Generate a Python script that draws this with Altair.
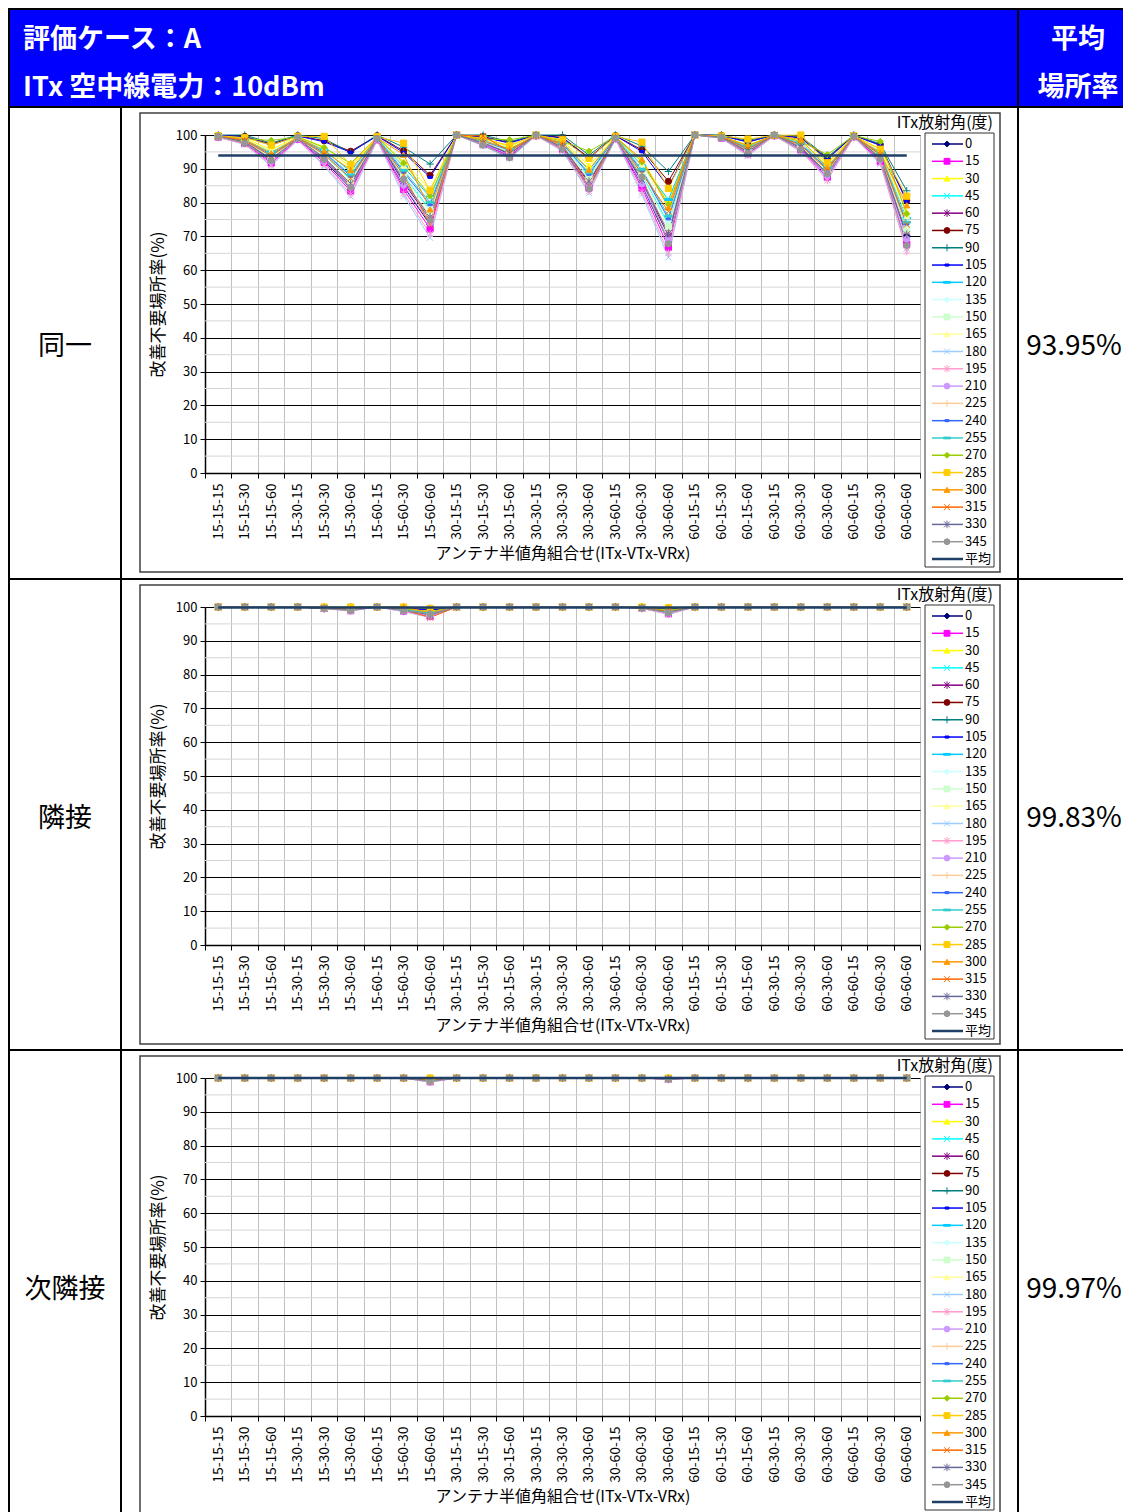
import altair as alt
import pandas as pd

FONT = "Noto Sans CJK JP"

CATS = ["15-15-15", "15-15-30", "15-15-60", "15-30-15", "15-30-30", "15-30-60", "15-60-15", "15-60-30", "15-60-60",
        "30-15-15", "30-15-30", "30-15-60", "30-30-15", "30-30-30", "30-30-60", "30-60-15", "30-60-30", "30-60-60",
        "60-15-15", "60-15-30", "60-15-60", "60-30-15", "60-30-30", "60-30-60", "60-60-15", "60-60-30", "60-60-60"]
ANGLES = ["0", "15", "30", "45", "60", "75", "90", "105", "120", "135", "150", "165",
          "180", "195", "210", "225", "240", "255", "270", "285", "300", "315", "330", "345"]
COLORS = ["#000080", "#FF00FF", "#FFFF00", "#00FFFF", "#800080", "#800000", "#008080", "#0000FF",
          "#00CCFF", "#CCFFFF", "#CCFFCC", "#FFFF99", "#99CCFF", "#FF99CC", "#CC99FF", "#FFCC99",
          "#3366FF", "#33CCCC", "#99CC00", "#FFCC00", "#FF9900", "#FF6600", "#666699", "#969696"]
P_X = "M-1,-1L1,1M-1,1L1,-1"
P_STAR = "M-1,-1L1,1M-1,1L1,-1M0,-1.3L0,1.3"
P_PLUS = "M-1.2,0L1.2,0M0,-1.2L0,1.2"
P_SDASH = "M-0.7,-0.35L0.7,-0.35L0.7,0.35L-0.7,0.35Z"
P_LDASH = "M-1.2,-0.3L1.2,-0.3L1.2,0.3L-1.2,0.3Z"
SHAPES = ["diamond", "square", "triangle-up", P_X, P_STAR, "circle", P_PLUS, P_SDASH, P_LDASH,
          "diamond", "square", "triangle-up", P_X, P_STAR, "circle", P_PLUS, P_SDASH, P_LDASH,
          "diamond", "square", "triangle-up", P_X, P_STAR, "circle"]
MEAN_NAME = "平均"
MEAN_COLOR = "#1F3F66"

ROW_LABELS = ["同一", "隣接", "次隣接"]
MEANS = [93.95, 99.83, 99.97]
MEAN_TEXTS = ["93.95%", "99.83%", "99.97%"]
HEADER_LEFT = ["評価ケース：A", "ITx 空中線電力：10dBm"]
HEADER_RIGHT = ["平均", "場所率"]
LEGEND_TITLE = "ITx放射角(度)"
X_TITLE = "アンテナ半値角組合せ(ITx-VTx-VRx)"
Y_TITLE = "改善不要場所率(%)"
Y_TICKS = [0, 10, 20, 30, 40, 50, 60, 70, 80, 90, 100]
Y_MINOR = [5, 15, 25, 35, 45, 55, 65, 75, 85, 95]

# 同一 (one list per ITx angle, 27 antenna combinations)
P1 = [
    [99.4, 97.7, 92.2, 98.8, 92.4, 84.2, 98.7, 84.8, 73.5, 100, 97.4, 94.0, 99.8, 96.1, 85.0, 99.0, 85.2, 68.4, 100, 99.2, 94.7, 99.8, 95.9, 88.0, 99.5, 92.6, 70.3],
    [99.4, 97.5, 91.7, 98.7, 91.9, 83.4, 98.6, 83.9, 72.2, 100, 97.2, 93.7, 99.8, 95.8, 84.3, 98.9, 84.3, 66.8, 100, 99.1, 94.4, 99.8, 95.6, 87.5, 99.5, 92.2, 67.7],
    [99.8, 99.0, 95.7, 99.5, 96.5, 90.5, 99.4, 92.1, 83.8, 100, 98.9, 96.6, 99.9, 98.3, 90.9, 99.6, 92.5, 80.3, 100, 99.6, 97.0, 99.9, 98.2, 91.5, 99.8, 95.8, 77.2],
    [99.6, 98.3, 93.7, 99.1, 94.1, 86.9, 99.0, 87.9, 77.9, 100, 98.0, 95.1, 99.9, 97.0, 87.5, 99.3, 88.3, 73.5, 100, 99.4, 95.7, 99.9, 96.9, 89.5, 99.6, 93.9, 72.4],
    [99.5, 97.9, 92.7, 98.9, 93.0, 85.1, 98.8, 85.9, 75.0, 100, 97.6, 94.4, 99.8, 96.4, 85.9, 99.1, 86.3, 70.1, 100, 99.3, 95.0, 99.8, 96.2, 88.5, 99.5, 93.1, 70.1],
    [99.9, 99.6, 97.3, 99.8, 98.3, 95.2, 99.8, 95.3, 88.1, 100, 99.5, 97.8, 100, 99.3, 93.3, 99.8, 95.6, 86.3, 100, 99.9, 98.0, 100, 99.3, 93.1, 99.9, 97.1, 80.6],
    [100, 100, 97.6, 100, 98.9, 94.8, 100, 96.4, 91.4, 100, 100, 98.0, 100, 100, 94.0, 100, 96.7, 89.2, 100, 100, 98.4, 100, 99.6, 93.4, 100, 97.4, 83.5],
    [99.9, 99.5, 97.0, 99.7, 98.0, 94.9, 99.7, 94.8, 87.5, 100, 99.4, 97.6, 100, 99.1, 93.0, 99.8, 95.1, 84.6, 100, 99.8, 97.9, 100, 99.1, 92.8, 99.9, 96.9, 80.3],
    [99.7, 98.7, 95.0, 99.3, 95.6, 89.2, 99.3, 90.6, 81.6, 100, 98.6, 96.1, 99.9, 97.8, 89.6, 99.5, 90.9, 80.9, 100, 99.6, 96.5, 99.9, 97.8, 90.8, 99.7, 95.1, 75.4],
    [99.6, 98.4, 94.0, 99.1, 94.5, 87.4, 99.1, 88.6, 78.8, 100, 98.1, 95.4, 99.9, 97.2, 88.0, 99.3, 88.9, 74.5, 100, 99.4, 95.9, 99.9, 97.1, 89.8, 99.7, 94.2, 73.1],
    [99.6, 98.2, 93.5, 99.0, 94.0, 86.6, 99.0, 87.6, 77.4, 100, 98.0, 95.0, 99.9, 96.9, 87.3, 99.2, 88.0, 72.9, 100, 99.4, 95.6, 99.9, 96.8, 89.3, 99.6, 93.8, 72.0],
    [99.7, 98.8, 95.2, 99.4, 95.9, 89.6, 99.3, 91.0, 82.2, 100, 98.7, 96.2, 99.9, 98.0, 90.0, 99.5, 91.4, 78.5, 100, 99.6, 96.7, 99.9, 97.9, 91.0, 99.7, 95.3, 76.0],
    [99.3, 97.2, 90.8, 98.5, 90.8, 81.8, 98.4, 82.0, 69.6, 100, 96.8, 93.0, 99.8, 95.2, 82.8, 98.8, 82.4, 63.8, 100, 99.0, 93.8, 99.8, 95.0, 87.2, 99.4, 91.4, 66.4],
    [99.3, 97.3, 91.2, 98.6, 91.2, 82.5, 98.5, 82.8, 70.7, 100, 97.0, 93.3, 99.8, 95.4, 83.4, 98.9, 83.2, 65.1, 100, 99.1, 94.0, 99.8, 95.3, 86.6, 99.4, 91.7, 65.6],
    [99.4, 97.8, 92.3, 98.8, 92.6, 84.5, 98.7, 85.1, 74.0, 100, 97.4, 94.1, 99.8, 96.2, 85.3, 99.0, 85.5, 68.9, 100, 99.2, 94.8, 99.8, 96.0, 88.1, 99.5, 92.7, 69.2],
    [99.5, 98.0, 93.1, 99.0, 93.4, 85.8, 98.9, 86.7, 76.1, 100, 97.8, 94.7, 99.9, 96.6, 86.5, 99.2, 87.0, 71.4, 100, 99.3, 95.3, 99.9, 96.5, 88.9, 99.6, 93.4, 71.0],
    [99.6, 98.5, 94.2, 99.2, 94.8, 87.8, 99.1, 89.0, 79.4, 100, 98.2, 95.5, 99.9, 97.4, 88.4, 99.3, 89.4, 75.2, 100, 99.5, 96.0, 99.9, 97.3, 90.0, 99.7, 94.4, 73.7],
    [99.6, 98.5, 94.4, 99.2, 95.0, 88.2, 99.2, 89.5, 80.1, 100, 98.3, 95.7, 99.9, 97.5, 88.8, 99.4, 89.8, 76.0, 100, 99.5, 96.2, 99.9, 97.4, 90.2, 99.7, 94.6, 74.2],
    [99.7, 98.9, 98.4, 99.4, 96.3, 91.6, 99.4, 91.7, 82.0, 100, 98.8, 98.6, 99.9, 98.2, 95.2, 99.5, 92.0, 79.5, 100, 99.6, 96.9, 99.9, 98.1, 94.2, 99.8, 98.1, 76.7],
    [99.8, 99.2, 97.0, 99.6, 99.6, 91.2, 99.5, 97.6, 83.6, 100, 99.0, 96.9, 100, 98.6, 93.1, 99.6, 97.9, 84.2, 100, 99.7, 98.8, 99.9, 100, 91.8, 99.8, 95.8, 81.9],
    [99.7, 98.6, 94.6, 99.3, 95.2, 89.7, 99.2, 94.2, 78.0, 100, 98.4, 95.8, 99.9, 97.6, 89.8, 99.4, 92.8, 78.6, 100, 99.5, 96.8, 99.9, 98.7, 90.4, 99.7, 94.7, 79.2],
    [99.6, 98.3, 93.8, 99.1, 94.3, 87.2, 99.0, 88.2, 73.5, 100, 99.7, 95.2, 99.9, 97.1, 84.9, 99.3, 88.6, 77.4, 100, 99.4, 95.8, 99.9, 97.0, 89.6, 99.6, 94.1, 73.5],
    [99.5, 98.0, 92.9, 98.9, 93.3, 85.6, 98.8, 86.4, 75.7, 100, 97.7, 94.6, 99.9, 96.5, 86.3, 99.1, 86.7, 70.9, 100, 99.3, 95.2, 99.9, 96.4, 88.7, 99.6, 93.3, 70.6],
    [99.6, 97.5, 92.4, 99.3, 92.8, 84.5, 99.0, 86.9, 74.9, 100, 97.0, 93.3, 100, 95.8, 84.1, 99.0, 87.6, 67.8, 100, 99.2, 94.6, 100, 95.6, 88.6, 99.6, 92.8, 67.3],
]

# 隣接
P2 = [
    [100, 100, 100, 100, 99.6, 99.0, 100, 98.9, 97.4, 100, 100, 100, 100, 100, 100, 100, 99.7, 98.2, 100, 100, 100, 100, 100, 100, 100, 100, 100],
    [100, 100, 100, 100, 99.6, 98.9, 100, 98.8, 97.2, 100, 100, 100, 100, 100, 100, 100, 99.6, 98.0, 100, 100, 100, 100, 100, 100, 100, 100, 100],
    [100, 100, 100, 100, 99.8, 99.6, 100, 99.5, 98.7, 100, 100, 100, 100, 100, 100, 100, 99.9, 99.1, 100, 100, 100, 100, 100, 100, 100, 100, 100],
    [100, 100, 100, 100, 99.7, 99.3, 100, 99.1, 97.9, 100, 100, 100, 100, 100, 100, 100, 99.8, 98.6, 100, 100, 100, 100, 100, 100, 100, 100, 100],
    [100, 100, 100, 100, 99.6, 99.1, 100, 99.0, 97.6, 100, 100, 100, 100, 100, 100, 100, 99.7, 98.3, 100, 100, 100, 100, 100, 100, 100, 100, 100],
    [100, 100, 100, 100, 99.9, 99.8, 100, 99.8, 99.2, 100, 100, 100, 100, 100, 100, 100, 99.9, 99.5, 100, 100, 100, 100, 100, 100, 100, 100, 100],
    [100, 100, 100, 100, 100, 100, 100, 100, 99.6, 100, 100, 100, 100, 100, 100, 100, 100, 99.8, 100, 100, 100, 100, 100, 100, 100, 100, 100],
    [100, 100, 100, 100, 99.9, 99.8, 100, 99.7, 99.1, 100, 100, 100, 100, 100, 100, 100, 99.9, 99.4, 100, 100, 100, 100, 100, 100, 100, 100, 100],
    [100, 100, 100, 100, 99.8, 99.5, 100, 99.4, 98.4, 100, 100, 100, 100, 100, 100, 100, 99.8, 98.9, 100, 100, 100, 100, 100, 100, 100, 100, 100],
    [100, 100, 100, 100, 99.7, 99.3, 100, 99.2, 98.0, 100, 100, 100, 100, 100, 100, 100, 99.8, 98.6, 100, 100, 100, 100, 100, 100, 100, 100, 100],
    [100, 100, 100, 100, 99.7, 99.2, 100, 99.1, 97.9, 100, 100, 100, 100, 100, 100, 100, 99.7, 98.5, 100, 100, 100, 100, 100, 100, 100, 100, 100],
    [100, 100, 100, 100, 99.8, 99.5, 100, 99.4, 98.5, 100, 100, 100, 100, 100, 100, 100, 99.8, 99.0, 100, 100, 100, 100, 100, 100, 100, 100, 100],
    [100, 100, 100, 100, 99.5, 98.8, 100, 98.6, 96.9, 100, 100, 100, 100, 100, 100, 100, 99.6, 97.8, 100, 100, 100, 100, 100, 100, 100, 100, 100],
    [100, 100, 100, 100, 99.5, 98.9, 100, 98.7, 97.0, 100, 100, 100, 100, 100, 100, 100, 99.6, 97.9, 100, 100, 100, 100, 100, 100, 100, 100, 100],
    [100, 100, 100, 100, 99.6, 99.0, 100, 98.9, 97.4, 100, 100, 100, 100, 100, 100, 100, 99.7, 98.2, 100, 100, 100, 100, 100, 100, 100, 100, 100],
    [100, 100, 100, 100, 99.7, 99.2, 100, 99.0, 97.7, 100, 100, 100, 100, 100, 100, 100, 99.7, 98.4, 100, 100, 100, 100, 100, 100, 100, 100, 100],
    [100, 100, 100, 100, 99.7, 99.3, 100, 99.2, 98.1, 100, 100, 100, 100, 100, 100, 100, 99.8, 98.7, 100, 100, 100, 100, 100, 100, 100, 100, 100],
    [100, 100, 100, 100, 99.7, 99.4, 100, 99.3, 98.2, 100, 100, 100, 100, 100, 100, 100, 99.8, 98.8, 100, 100, 100, 100, 100, 100, 100, 100, 100],
    [100, 100, 100, 100, 99.8, 99.5, 100, 99.5, 98.6, 100, 100, 100, 100, 100, 100, 100, 99.8, 99.0, 100, 100, 100, 100, 100, 100, 100, 100, 100],
    [100, 100, 100, 100, 100, 100, 100, 100, 99.6, 100, 100, 100, 100, 100, 100, 100, 100, 99.8, 100, 100, 100, 100, 100, 100, 100, 100, 100],
    [100, 100, 100, 100, 99.8, 99.4, 100, 100, 98.3, 100, 100, 100, 100, 100, 100, 100, 99.8, 99.7, 100, 100, 100, 100, 100, 100, 100, 100, 100],
    [100, 100, 100, 100, 99.7, 99.3, 100, 99.2, 96.9, 100, 100, 100, 100, 100, 100, 100, 99.8, 98.6, 100, 100, 100, 100, 100, 100, 100, 100, 100],
    [100, 100, 100, 100, 99.6, 99.1, 100, 99.0, 97.7, 100, 100, 100, 100, 100, 100, 100, 99.7, 98.4, 100, 100, 100, 100, 100, 100, 100, 100, 100],
    [100, 100, 100, 100, 99.6, 99.0, 100, 99.0, 98.0, 100, 100, 100, 100, 100, 100, 100, 99.7, 98.3, 100, 100, 100, 100, 100, 100, 100, 100, 100],
]

# 次隣接
P3 = [
    [100, 100, 100, 100, 100, 100, 100, 100, 98.9, 100, 100, 100, 100, 100, 100, 100, 100, 99.7, 100, 100, 100, 100, 100, 100, 100, 100, 100],
    [100, 100, 100, 100, 100, 100, 100, 100, 98.9, 100, 100, 100, 100, 100, 100, 100, 100, 99.6, 100, 100, 100, 100, 100, 100, 100, 100, 100],
    [100, 100, 100, 100, 100, 100, 100, 100, 99.5, 100, 100, 100, 100, 100, 100, 100, 100, 99.9, 100, 100, 100, 100, 100, 100, 100, 100, 100],
    [100, 100, 100, 100, 100, 100, 100, 100, 99.2, 100, 100, 100, 100, 100, 100, 100, 100, 99.8, 100, 100, 100, 100, 100, 100, 100, 100, 100],
    [100, 100, 100, 100, 100, 100, 100, 100, 99.0, 100, 100, 100, 100, 100, 100, 100, 100, 99.7, 100, 100, 100, 100, 100, 100, 100, 100, 100],
    [100, 100, 100, 100, 100, 100, 100, 100, 99.8, 100, 100, 100, 100, 100, 100, 100, 100, 99.9, 100, 100, 100, 100, 100, 100, 100, 100, 100],
    [100, 100, 100, 100, 100, 100, 100, 100, 100, 100, 100, 100, 100, 100, 100, 100, 100, 100, 100, 100, 100, 100, 100, 100, 100, 100, 100],
    [100, 100, 100, 100, 100, 100, 100, 100, 99.8, 100, 100, 100, 100, 100, 100, 100, 100, 99.9, 100, 100, 100, 100, 100, 100, 100, 100, 100],
    [100, 100, 100, 100, 100, 100, 100, 100, 99.4, 100, 100, 100, 100, 100, 100, 100, 100, 99.8, 100, 100, 100, 100, 100, 100, 100, 100, 100],
    [100, 100, 100, 100, 100, 100, 100, 100, 99.2, 100, 100, 100, 100, 100, 100, 100, 100, 99.8, 100, 100, 100, 100, 100, 100, 100, 100, 100],
    [100, 100, 100, 100, 100, 100, 100, 100, 99.2, 100, 100, 100, 100, 100, 100, 100, 100, 99.7, 100, 100, 100, 100, 100, 100, 100, 100, 100],
    [100, 100, 100, 100, 100, 100, 100, 100, 99.5, 100, 100, 100, 100, 100, 100, 100, 100, 99.8, 100, 100, 100, 100, 100, 100, 100, 100, 100],
    [100, 100, 100, 100, 100, 100, 100, 100, 98.7, 100, 100, 100, 100, 100, 100, 100, 100, 99.6, 100, 100, 100, 100, 100, 100, 100, 100, 100],
    [100, 100, 100, 100, 100, 100, 100, 100, 98.8, 100, 100, 100, 100, 100, 100, 100, 100, 99.6, 100, 100, 100, 100, 100, 100, 100, 100, 100],
    [100, 100, 100, 100, 100, 100, 100, 100, 99.0, 100, 100, 100, 100, 100, 100, 100, 100, 99.7, 100, 100, 100, 100, 100, 100, 100, 100, 100],
    [100, 100, 100, 100, 100, 100, 100, 100, 99.1, 100, 100, 100, 100, 100, 100, 100, 100, 99.7, 100, 100, 100, 100, 100, 100, 100, 100, 100],
    [100, 100, 100, 100, 100, 100, 100, 100, 99.3, 100, 100, 100, 100, 100, 100, 100, 100, 99.8, 100, 100, 100, 100, 100, 100, 100, 100, 100],
    [100, 100, 100, 100, 100, 100, 100, 100, 99.3, 100, 100, 100, 100, 100, 100, 100, 100, 99.8, 100, 100, 100, 100, 100, 100, 100, 100, 100],
    [100, 100, 100, 100, 100, 100, 100, 100, 99.5, 100, 100, 100, 100, 100, 100, 100, 100, 99.8, 100, 100, 100, 100, 100, 100, 100, 100, 100],
    [100, 100, 100, 100, 100, 100, 100, 100, 100, 100, 100, 100, 100, 100, 100, 100, 100, 100, 100, 100, 100, 100, 100, 100, 100, 100, 100],
    [100, 100, 100, 100, 100, 100, 100, 100, 99.4, 100, 100, 100, 100, 100, 100, 100, 100, 99.8, 100, 100, 100, 100, 100, 100, 100, 100, 100],
    [100, 100, 100, 100, 100, 100, 100, 100, 99.2, 100, 100, 100, 100, 100, 100, 100, 100, 99.8, 100, 100, 100, 100, 100, 100, 100, 100, 100],
    [100, 100, 100, 100, 100, 100, 100, 100, 99.1, 100, 100, 100, 100, 100, 100, 100, 100, 99.7, 100, 100, 100, 100, 100, 100, 100, 100, 100],
    [100, 100, 100, 100, 100, 100, 100, 100, 99.0, 100, 100, 100, 100, 100, 100, 100, 100, 99.7, 100, 100, 100, 100, 100, 100, 100, 100, 100],
]

PANELS = [P1, P2, P3]

# ---------------- layout constants (pixels, relative to each plot origin) ----------------
PW, PH = 715, 338
ROW_X0, ROW_X1 = -197, 918
ROW_Y0 = -29
ROW_Y1S = [443, 442, 443]   # bottom of each row cell (row pitch 472 / 471)
HDR_Y0 = -127
LINE = 2  # table border thickness


def one():
    return alt.Chart(pd.DataFrame({"k": [0]}))


def brect(x0, x1, y0, y1, color="black"):
    # filled rectangle without stroke: its bounds are exactly its geometry
    return one().mark_rect(color=color, strokeWidth=0).encode(
        x=alt.value(x0), x2=alt.value(x1), y=alt.value(y0), y2=alt.value(y1))


def header_layers():
    layers = [
        brect(ROW_X0, ROW_X1, HDR_Y0, ROW_Y0, "#0000FF"),
        brect(ROW_X0, ROW_X1, HDR_Y0, HDR_Y0 + LINE),
        brect(ROW_X0, ROW_X0 + LINE, HDR_Y0, ROW_Y0),
        brect(812, 812 + LINE, HDR_Y0, ROW_Y0),
    ]
    for i, t in enumerate(HEADER_LEFT):
        layers.append(one().mark_text(text=t, align="left", baseline="middle", fontSize=27,
                                      fontWeight="bold", font=FONT, color="white").encode(
            x=alt.value(-182), y=alt.value(-95 + 48 * i)))
    for i, t in enumerate(HEADER_RIGHT):
        layers.append(one().mark_text(text=t, align="center", baseline="middle", fontSize=27,
                                      fontWeight="bold", font=FONT, color="white").encode(
            x=alt.value(873), y=alt.value(-95 + 48 * i)))
    return layers


def build_row(label, panel, mean_val, mean_text, with_header, row_y1):
    recs = []
    for a, vals in zip(ANGLES, panel):
        assert len(vals) == len(CATS)
        for c, v in zip(CATS, vals):
            recs.append({"cat": c, "series": a, "value": v})
    df = pd.DataFrame(recs)
    mdf = pd.DataFrame({"cat": CATS, "series": [MEAN_NAME] * len(CATS),
                        "value": [mean_val] * len(CATS)})
    ldf = pd.DataFrame({"series": ANGLES + [MEAN_NAME], "idx": list(range(len(ANGLES) + 1))})
    lpdf = ldf.iloc[:len(ANGLES)]

    cscale = alt.Scale(domain=ANGLES + [MEAN_NAME], range=COLORS + [MEAN_COLOR])
    sscale = alt.Scale(domain=ANGLES, range=SHAPES)
    xaxis = alt.Axis(labelAngle=-90, labelFontSize=14, labelPadding=5, labelOverlap=False,
                     tickBand="extent", grid=True, gridColor="#c0c0c0", gridWidth=1,
                     domainColor="black", domainWidth=1.5, tickColor="black", tickSize=5,
                     titleFontSize=16, titlePadding=6)
    X = alt.X("cat:N", sort=CATS, title=X_TITLE, bandPosition=0.5,
              scale=alt.Scale(type="band", paddingInner=0, paddingOuter=0), axis=xaxis)
    yaxis = alt.Axis(values=Y_TICKS, grid=True, gridColor="#000000", gridWidth=1,
                     domainColor="black", domainWidth=1.5, tickColor="black", tickSize=5,
                     labelFontSize=13, labelPadding=3, titleFontSize=17, titlePadding=8)
    Ymain = alt.Y("value:Q", title=Y_TITLE, scale=alt.Scale(domain=[0, 100]), axis=yaxis)
    Yn = alt.Y("value:Q", scale=alt.Scale(domain=[0, 100]), axis=None)
    col = alt.Color("series:N", scale=cscale, legend=None)
    stk = alt.Stroke("series:N", scale=cscale, legend=None)
    shp = alt.Shape("series:N", scale=sscale, legend=None)

    top_y = HDR_Y0 if with_header else ROW_Y0
    bounds = one().mark_rect(fillOpacity=0, strokeWidth=0).encode(
        x=alt.value(ROW_X0), x2=alt.value(ROW_X1), y=alt.value(top_y), y2=alt.value(row_y1))
    frame = one().mark_rect(fillOpacity=0, stroke="#404040", strokeWidth=1.5).encode(
        x=alt.value(-65), x2=alt.value(795), y=alt.value(-22), y2=alt.value(437))
    minor = alt.Chart(pd.DataFrame({"v": Y_MINOR})).mark_rule(color="#d6d6d6", strokeWidth=1).encode(
        y=alt.Y("v:Q", scale=alt.Scale(domain=[0, 100]), axis=None),
        x=alt.value(0), x2=alt.value(PW))
    lines = alt.Chart(df).mark_line(strokeWidth=1).encode(x=X, y=Ymain, color=col)
    pts = alt.Chart(df).mark_point(filled=True, size=38, strokeWidth=1, opacity=1).encode(
        x=X, y=Yn, color=col, stroke=stk, shape=shp)
    meanl = alt.Chart(mdf).mark_line(strokeWidth=2.5).encode(x=X, y=Yn, color=col)

    LY = alt.Y("idx:Q", scale=alt.Scale(domain=[0, 24], range=[9, 424]), axis=None)
    lbox = one().mark_rect(fill="white", stroke="#333333", strokeWidth=1).encode(
        x=alt.value(720), x2=alt.value(789), y=alt.value(-2), y2=alt.value(432))
    lrules = alt.Chart(ldf).mark_rule().encode(
        x=alt.value(727), x2=alt.value(758), y=LY, color=col,
        strokeWidth=alt.condition(alt.datum.series == MEAN_NAME, alt.value(2.5), alt.value(1.5)))
    lpts = alt.Chart(lpdf).mark_point(filled=True, size=34, strokeWidth=1, opacity=1).encode(
        x=alt.value(742), y=LY, color=col, stroke=stk, shape=shp)
    ltext = alt.Chart(ldf).mark_text(align="left", baseline="middle", fontSize=13, font=FONT,
                                     color="black").encode(x=alt.value(760), y=LY, text="series:N")
    ltitle = one().mark_text(text=LEGEND_TITLE, align="right", baseline="middle", fontSize=16,
                             font=FONT, color="black").encode(x=alt.value(788), y=alt.value(-12))

    lbl = one().mark_text(text=label, align="center", baseline="middle", fontSize=27, font=FONT,
                          color="black").encode(x=alt.value(-140), y=alt.value(212))
    val = one().mark_text(text=mean_text, align="center", baseline="middle", fontSize=28, font=FONT,
                          color="black").encode(x=alt.value(869), y=alt.value(212))

    borders = [brect(ROW_X0, ROW_X1, ROW_Y0, ROW_Y0 + LINE),
               brect(ROW_X0, ROW_X0 + LINE, ROW_Y0, row_y1),
               brect(-85, -85 + LINE, ROW_Y0, row_y1),
               brect(812, 812 + LINE, ROW_Y0, row_y1)]
    extra = header_layers() if with_header else []

    return alt.layer(bounds, frame, minor, lines, pts, meanl, lbox, lrules, lpts, ltext, ltitle,
                     lbl, val, *borders, *extra).resolve_scale(y="independent").properties(
        width=PW, height=PH)


rows = [build_row(l, p, m, t, i == 0, y1)
        for i, (l, p, m, t, y1) in enumerate(zip(ROW_LABELS, PANELS, MEANS, MEAN_TEXTS, ROW_Y1S))]

chart = alt.vconcat(*rows, spacing=0, padding=0).configure_view(
    stroke="transparent", strokeOpacity=0).configure_axis(
    labelFont=FONT, titleFont=FONT, labelColor="black", titleColor="black",
    titleFontWeight="normal").configure_text(font=FONT)

chart.save("out.html", embed_options={"renderer": "svg", "actions": False})
